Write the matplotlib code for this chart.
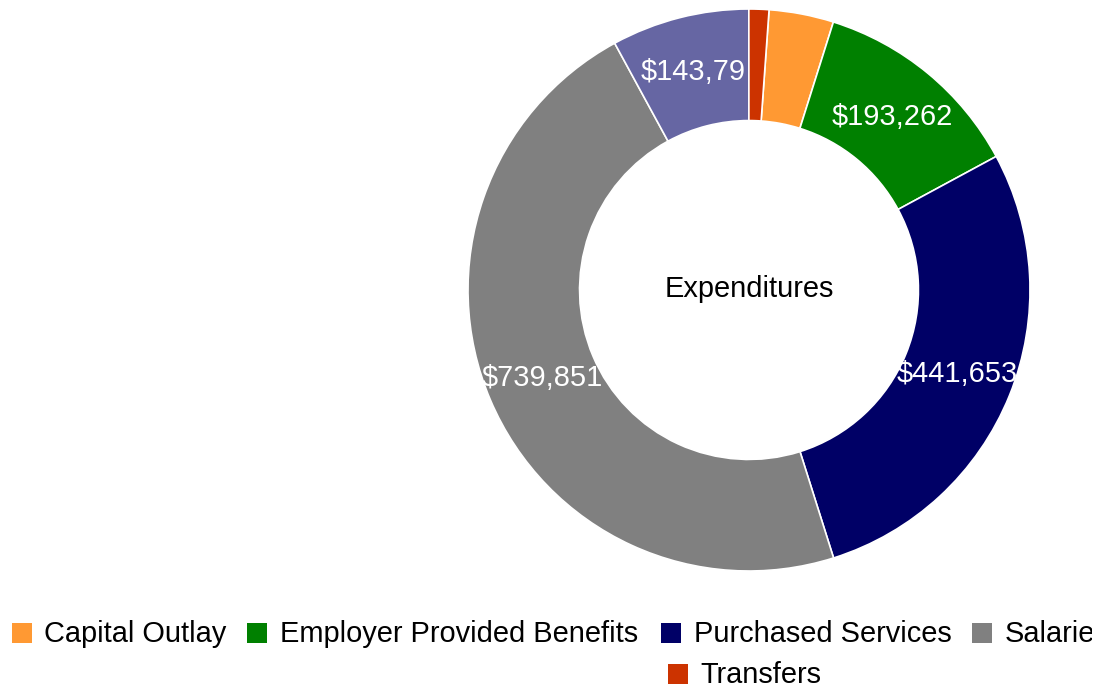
import matplotlib
matplotlib.use("Agg")
import matplotlib.pyplot as plt
import numpy as np
from matplotlib.patches import Rectangle
from matplotlib.transforms import Bbox, IdentityTransform

plt.rcParams['font.family'] = ['Liberation Sans', 'DejaVu Sans']

# ---- data (legend / data order) ----
categories = ["Capital Outlay", "Employer Provided Benefits", "Purchased Services",
              "Salaries", "Supplies", "Transfers"]
values = [58600, 193262, 441653, 739851, 124900, 18100]
slice_labels = ["", "$193,262", "$441,653", "$739,851", "$143,79", ""]
colors = ["#FF9933", "#008000", "#000066", "#808080", "#6666A3", "#CC3300"]
title = "Expenditures"

W, H = 1104, 688
FS = 20.9
fig = plt.figure(figsize=(W / 100, H / 100), dpi=100)
fig.patch.set_facecolor("white")

cx, cy, R = 749, 290, 281
ax = fig.add_axes([(cx - R) / W, (H - cy - R) / H, 2 * R / W, 2 * R / H])
wedges, _ = ax.pie(values, colors=colors, startangle=85.9, counterclock=False,
                   radius=1.0, wedgeprops=dict(width=0.397, edgecolor="white", linewidth=1.2))
ax.set_xlim(-1, 1)
ax.set_ylim(-1, 1)
ax.set_aspect("equal")
ax.axis("off")

# slices drawn in order, each slice's label drawn right after it (later slices cover overflow)
for k, (w, lab) in enumerate(zip(wedges, slice_labels)):
    w.set_zorder(2 + k)
    if not lab:
        continue
    ang = np.deg2rad((w.theta1 + w.theta2) / 2)
    r = 0.80
    ax.text(r * np.cos(ang), r * np.sin(ang), lab, ha="center", va="center",
            color="white", fontsize=FS, zorder=2.5 + k)

ax.text(0, 0.005, title, ha="center", va="center", color="black", fontsize=FS, zorder=20)

# ---- legend (manual, Google-chart style; the row runs past the right edge) ----
ident = IdentityTransform()
legend_rows = [
    (641.7, [12, 247, 661, 972], [0, 1, 2, 3]),
    (683.3, [668], [5]),
]
clip = Bbox([[0, 0], [1092, H]])
for base_y, xs, idxs in legend_rows:
    yb = H - base_y
    for x, i in zip(xs, idxs):
        sq = Rectangle((x, yb - 1), 20, 20, transform=ident, facecolor=colors[i],
                       edgecolor="none")
        fig.add_artist(sq)
        t = fig.text(x + 32.5, yb, categories[i], transform=ident, ha="left",
                     va="baseline", fontsize=FS, color="black")
        t.set_clip_box(clip)
        t.set_clip_on(True)

fig.savefig("out.png", dpi=100, facecolor="white")
